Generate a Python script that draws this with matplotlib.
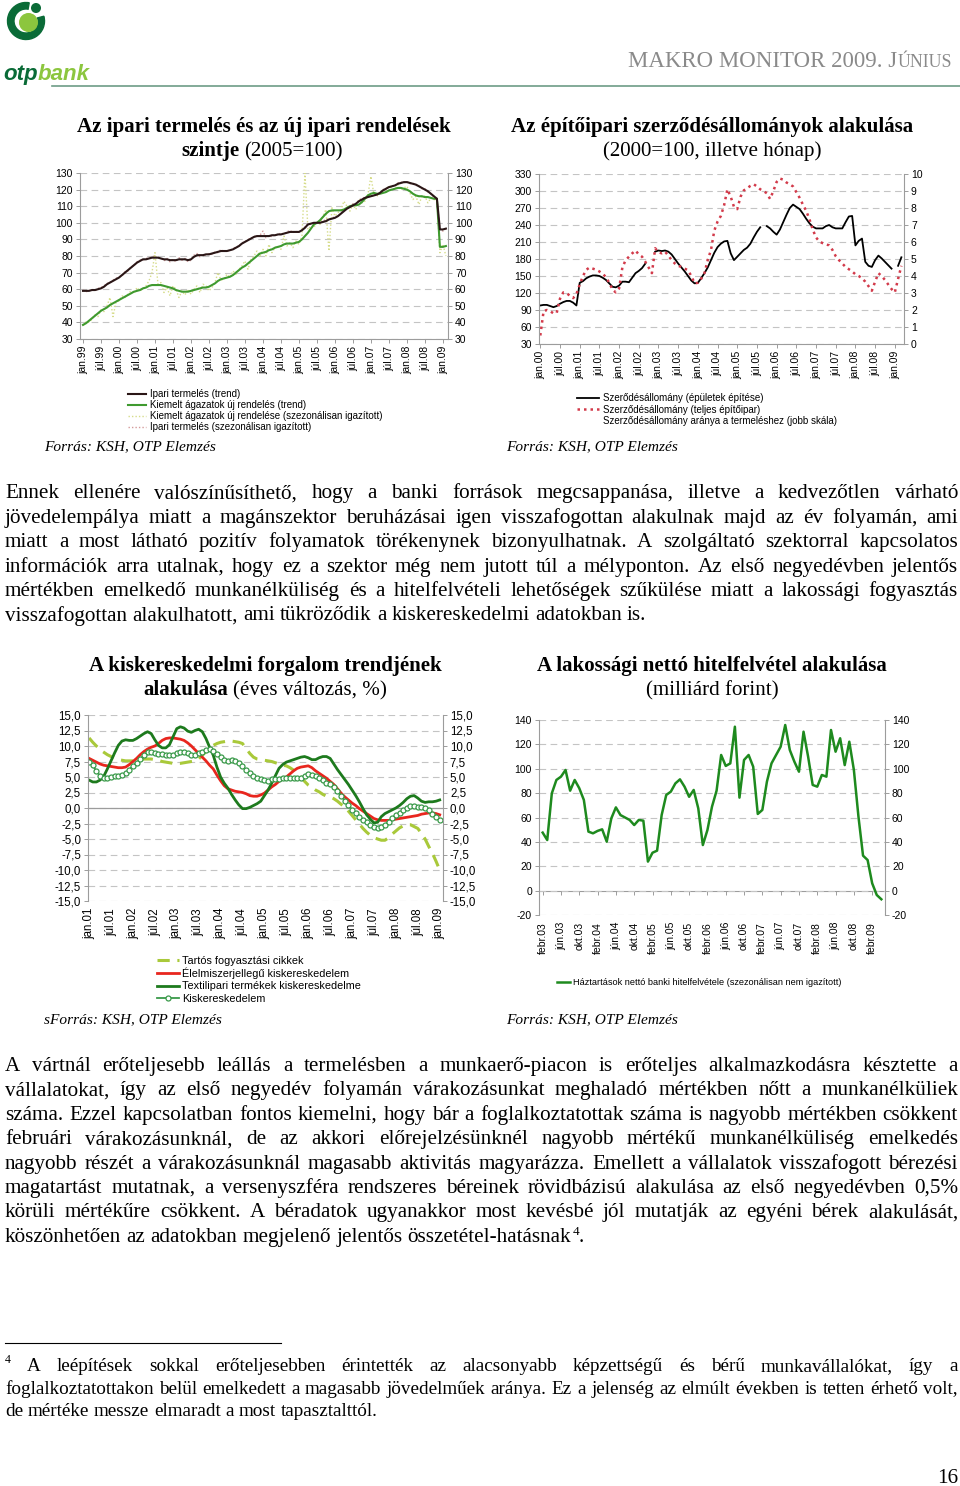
import matplotlib
matplotlib.use("Agg")
import matplotlib.pyplot as plt
from matplotlib.lines import Line2D
from matplotlib.patches import Circle, Wedge
import numpy as np

plt.rcParams["font.family"] = ["Liberation Sans", "DejaVu Sans"]

W, H = 960, 1486
SERIF = ["Liberation Serif", "DejaVu Serif"]
SANS = ["Liberation Sans", "DejaVu Sans"]
GRID = "#c4c4c4"
SPINE = "#9c9c9c"

# ---------------- chart 1: industry (monthly, jan.99 - feb.09) ----------------
ind_trend = [
    59, 59, 59, 59.5, 59.5, 60, 60.5, 61.5, 63, 64, 65, 66,
    67, 68.5, 70, 71.5, 73, 74.5, 76, 77, 78, 78, 78.5, 79,
    79, 79, 78.5, 78, 78, 77.5, 77.5, 77.5, 78, 78, 78, 77.5,
    78, 79.5, 80.5, 80.5, 80.5, 81, 81, 81.5, 82, 82.5, 83, 83,
    83, 83.5, 84, 85, 86, 87.5, 88.5, 89.5, 90.5, 91.5, 92, 92,
    92, 92, 92, 92.5, 92.5, 93, 93, 93.5, 94, 94.5, 94.5, 94.5,
    94.5, 95.5, 97, 99, 99.5, 100, 100, 100, 100.5, 101, 102, 102.5,
    103, 104, 105.5, 107, 108.5, 109.5, 110.5, 111.5, 113, 114, 115, 115.5,
    116, 116.5, 117, 118, 119.5, 120.5, 121.5, 122, 122.5, 123.5, 124, 124.5,
    124.5, 124, 123.5, 123, 122, 121, 120, 119, 117.5, 116, 114.5, 96,
    96, 96.5,
]
ord_trend = [
    38.5, 39.5, 41, 42.5, 44, 45.5, 47, 48, 49, 50.5, 51.5, 52.5,
    53.5, 54.5, 55.5, 56.5, 57.5, 58.5, 59, 59.5, 60.5, 61, 62, 62.5,
    62.5, 62.5, 62.5, 62, 61.5, 61, 60.5, 59.5, 59, 58.5, 58.5, 58.5,
    59, 59.5, 60, 60.5, 61, 61, 61.5, 62.5, 63.5, 65, 66, 66.5,
    67, 67.5, 68.5, 70, 71.5, 73, 74, 75.5, 77, 78.5, 80, 81.5,
    82, 82.5, 83.5, 84, 85, 85.5, 86, 87, 87.5, 87.5, 87.5, 88,
    88.5, 90, 92, 94, 96.5, 99, 100, 101.5, 103.5, 105.5, 107, 107.5,
    107.5, 107.5, 107.5, 108, 109, 110, 110.5, 110.5, 111, 112.5, 114.5, 116.5,
    117.5, 118, 117.5, 117.5, 118, 118.5, 119.5, 120, 120.5, 121, 121, 120.5,
    120, 119, 117.5, 116.5, 116, 116, 115.5, 115.5, 115, 114.5, 114.5, 85.5,
    85.5, 86,
]
ind_sa = [
    59.5, 58.5, 59, 60, 59, 60.5, 61, 62, 63.5, 64, 65.5, 66.5,
    67.5, 68, 70.5, 71, 73.5, 74, 76.5, 77.5, 77.5, 78.5, 79, 79.5,
    80, 78.5, 79, 77, 78.5, 76.5, 78, 76.5, 79, 77.5, 78.5, 76.5,
    77.5, 80.5, 81.5, 79.5, 81, 80.5, 81.5, 81, 82.5, 82, 84, 82.5,
    83.5, 83, 84.5, 85.5, 86, 88, 88.5, 90, 90.5, 92, 91.5, 92.5,
    95, 91, 92.5, 91.5, 93, 92.5, 94, 93, 94.5, 95.5, 94, 95,
    94, 96, 97.5, 99.5, 99, 100.5, 99.5, 101, 100.5, 102.5, 102, 103,
    103.5, 104, 106, 107.5, 109, 110, 111.5, 111, 114, 114.5, 115.5, 115,
    116.5, 116, 117.5, 117.5, 120, 120.5, 121, 122.5, 122, 124, 124.5, 124,
    125, 123.5, 124, 122.5, 122.5, 120.5, 120.5, 118.5, 117.5, 115.5, 114, 96.5,
    95, 96.5,
]
ord_sa = [
    38, 40.5, 40, 42, 44.5, 43.5, 47.5, 46.5, 50, 55, 43.5, 52,
    53, 56, 55, 57, 59, 57.5, 61, 59, 60.5, 62, 65, 70,
    82, 63, 64, 58, 61, 56, 62, 60, 55, 59, 56.5, 60,
    57, 60, 62, 58, 63, 62, 59, 61, 64, 70, 65.5, 66,
    69, 67, 71, 69, 72, 74, 77, 72, 78, 80, 83, 80,
    84, 80, 87, 82, 85, 86, 84, 92, 86, 88, 85, 89,
    87, 92, 130, 96, 98, 97, 101, 99, 104, 108, 83, 109,
    104, 106, 108, 113, 110, 107, 111, 108, 114, 112, 113, 117,
    128, 117, 116, 118, 119, 120, 122, 121, 120, 123, 120, 121,
    122, 118, 114, 116, 111, 116, 116, 112, 115, 114, 114, 82,
    87, 80,
]
labels1 = ["jan.99", "júl.99", "jan.00", "júl.00", "jan.01", "júl.01", "jan.02",
           "júl.02", "jan.03", "júl.03", "jan.04", "júl.04", "jan.05", "júl.05",
           "jan.06", "júl.06", "jan.07", "júl.07", "jan.08", "júl.08", "jan.09"]

# ---------------- chart 2: construction contracts (monthly, jan.00 - mar.09) ----------------
nan = np.nan
contract_build = [
    98, 99, 99, 97, 95, 97, 101, 104, 106, 106, 103, 98,
    138, 141, 146, 149, 151, 151, 150, 147, 143, 137, 131, 130,
    133, 140, 140, 139, 147, 155, 159, 164, 172, nan, nan, 193,
    195, 194, 195, 193, 188, 180, 172, 165, 158, 150, 142, 137,
    138, 146, 155, 165, 178, 191, 201, 207, 211, 212, 190, 178,
    184, 190, 196, 200, 207, 218, 228, 236, nan, 238, 234, 228,
    223, 232, 245, 258, 270, 276, 272, 268, 260, 251, 243, 237,
    234, 234, 234, 238, 240, 236, 234, 234, 234, 245, 255, 256,
    204, 212, 216, 175, 168, 166, 178, 186, 181, 175, 169, 163,
    nan, 168, 183,
]
contract_total = [
    45, 88, 90, 88, 84, 85, 110, 121, 120, 115, 111, 118,
    135, 150, 161, 165, 163, 161, 158, 154, 148, 138, 126, 121,
    128, 165, 178, 184, 190, 195, 188, 184, 175, 165, 155, 199,
    192, 190, 193, 186, 178, 172, 168, 166, 163, 160, 150, 137,
    138, 145, 155, 178, 196, 230, 246, 256, 275, 303, 290, 272,
    268, 290, 301, 305, 309, 312, 308, 303, 300, 296, 286, 300,
    316, 322, 320, 315, 312, 308, 298, 288, 276, 265, 250, 232,
    218, 211, 208, 206, 204, 196, 185, 178, 172, 166, 162, 158,
    153, 150, 146, 140, 132, 124, 140, 155, 150, 143, 135, 127,
    121, 145, 168,
]
labels2 = ["jan.00", "júl.00", "jan.01", "júl.01", "jan.02", "júl.02", "jan.03",
           "júl.03", "jan.04", "júl.04", "jan.05", "júl.05", "jan.06", "júl.06",
           "jan.07", "júl.07", "jan.08", "júl.08", "jan.09"]

# ---------------- chart 3: retail trend (monthly, jan.01 - jan.09) ----------------
durables = [
    11.3, 10.6, 10.0, 9.4, 9.0, 8.6, 8.3, 8.0, 7.8, 7.7, 7.6, 7.6,
    7.6, 7.7, 7.8, 7.9, 7.9, 7.9, 7.8, 7.7, 7.5, 7.4, 7.3, 7.2,
    7.2, 7.2, 7.3, 7.4, 7.5, 7.6, 7.9, 8.5, 9.1, 9.7, 10.1, 10.4,
    10.6, 10.7, 10.8, 10.8, 10.7, 10.6, 10.4, 9.6, 8.8, 8.2, 7.9, 7.8,
    7.7, 7.6, 7.5, 7.3, 7.1, 6.9, 6.8, 6.5, 6.1, 5.6, 5.0, 4.3,
    3.7, 3.3, 2.9, 2.6, 2.2, 1.9, 1.8, 1.5, 1.1, 0.6, 0.2, -0.5,
    -1.2, -1.9, -2.6, -3.3, -3.9, -4.4, -4.8, -5.0, -5.2, -5.2, -4.8, -4.2,
    -3.7, -3.2, -2.9, -2.7, -2.7, -3.0, -3.3, -4.1, -5.0, -6.2, -7.3, -8.6,
    -10.0,
]
food = [
    8.0, 7.7, 7.4, 7.1, 6.9, 6.8, 6.7, 6.6, 6.5, 6.5, 6.6, 7.0,
    7.5, 8.0, 8.6, 9.1, 9.5, 9.8, 10.0, 10.4, 10.9, 11.2, 11.3, 11.3,
    11.2, 11.1, 10.9, 10.5, 10.0, 9.4, 8.8, 8.2, 7.6, 6.9, 6.3, 5.3,
    4.4, 3.6, 3.1, 2.9, 2.7, 2.6, 2.5, 2.3, 2.0, 1.9, 1.9, 2.1,
    2.4, 2.9, 3.4, 3.8, 4.3, 4.7, 5.0, 5.5, 6.0, 6.4, 6.6, 6.7,
    6.8, 6.5, 6.0, 5.6, 5.2, 4.8, 4.3, 3.8, 3.1, 2.4, 1.8, 1.3,
    0.8, 0.4, -0.1, -0.5, -0.9, -1.3, -1.7, -1.9, -2.0, -2.0, -2.0, -1.9,
    -1.8, -1.7, -1.6, -1.5, -1.4, -1.3, -1.2, -1.0, -0.9, -0.8, -0.8, -0.9,
    -1.1,
]
textile = [
    4.5, 4.2, 4.2, 4.5, 5.1, 6.3, 7.6, 8.9, 10.1, 10.8, 11.0, 10.9,
    10.9, 11.2, 11.6, 12.0, 12.3, 12.0, 11.0, 10.1, 9.7, 9.7, 10.2, 11.5,
    12.8, 13.1, 12.9, 12.4, 12.2, 12.5, 12.7, 12.3, 11.2, 9.8, 8.5, 6.6,
    5.0, 4.0, 3.2, 2.2, 1.3, 0.5, -0.1, -0.1, 0.1, 0.4, 0.7, 1.1,
    2.0, 2.9, 4.0, 5.2, 6.4, 7.0, 7.4, 7.6, 7.8, 8.0, 8.2, 8.3,
    8.1, 7.8, 7.8, 8.1, 8.3, 8.3, 8.0, 7.1, 6.2, 5.4, 4.6, 3.8,
    2.9, 2.0, 1.0, -0.1, -1.1, -1.8, -2.4, -2.3, -1.4, -0.9, -0.6, -0.3,
    0.0, 0.4, 0.9, 1.5, 1.9, 2.0, 1.6, 1.1, 0.9, 1.0, 1.0, 1.1,
    1.3,
]
retail = [
    7.5, 6.9, 5.9, 5.2, 4.8, 4.9, 5.0, 5.1, 5.2, 5.3, 5.6, 6.2,
    6.8, 7.3, 7.9, 8.5, 9.0, 9.0, 8.8, 8.7, 8.7, 8.6, 8.6, 8.5,
    8.8, 9.1, 9.1, 8.9, 8.5, 8.5, 8.9, 9.1, 9.3, 9.5, 9.2, 8.7,
    8.2, 7.7, 7.6, 7.7, 7.6, 7.2, 6.7, 6.1, 5.6, 5.1, 4.8, 4.6,
    4.5, 4.4, 4.6, 4.7, 4.7, 4.8, 4.8, 4.9, 4.8, 4.8, 4.9, 5.2,
    5.5, 5.4, 5.1, 4.8, 4.5, 4.1, 3.8, 3.4, 2.7, 1.9, 1.2, 0.5,
    -0.3, -0.8, -1.4, -1.9, -2.3, -2.7, -3.0, -3.2, -3.1, -2.7, -2.2, -1.6,
    -1.1, -0.8, -0.4, 0.0, 0.3, 0.3, 0.2, 0.2, 0.0, -0.4, -1.0, -1.5,
    -1.9,
]
labels3 = ["jan.01", "júl.01", "jan.02", "júl.02", "jan.03", "júl.03", "jan.04",
           "júl.04", "jan.05", "júl.05", "jan.06", "júl.06", "jan.07", "júl.07",
           "jan.08", "júl.08", "jan.09"]

# ---------------- chart 4: household net borrowing (monthly, febr.03 - apr.09) ----------------
net_borrowing = [
    47.6, 41.5, 79.8, 90.8, 93.5, 99, 82, 90.8, 84, 74.4,
    48.4, 47, 49, 50.3, 40.2, 59.3, 68.3, 62, 60, 58,
    53.8, 58, 57.4, 23.8, 31.1, 32.8, 62, 78.5, 81.2, 88,
    91.3, 85.3, 77, 82.6, 67.5, 37.4, 49.7, 68.9, 82, 111.3,
    102.3, 104.4, 134.5, 76.3, 107.2, 111.3, 101.7, 62.9, 66.2, 89.4,
    104.4, 111.3, 118.1, 135.9, 115.4, 105.8, 97.6, 130.4, 109.9, 86.7,
    85.3, 94.9, 93.5, 131.8, 114, 125, 103, 122.2, 99, 60.7,
    28.7, 25.1, 6, -3.6, -7.1,
]
labels4 = ["febr.03", "jún.03", "okt.03", "febr.04", "jún.04", "okt.04", "febr.05",
           "jún.05", "okt.05", "febr.06", "jún.06", "okt.06", "febr.07", "jún.07",
           "okt.07", "febr.08", "jún.08", "okt.08", "febr.09"]

# ---------------- page text ----------------
para1 = [
    "Ennek ellenére valószínűsíthető, hogy a banki források megcsappanása, illetve a kedvezőtlen várható",
    "jövedelempálya miatt a magánszektor beruházásai igen visszafogottan alakulnak majd az év folyamán, ami",
    "miatt a most látható pozitív folyamatok törékenynek bizonyulhatnak. A szolgáltató szektorral kapcsolatos",
    "információk arra utalnak, hogy ez a szektor még nem jutott túl a mélyponton. Az első negyedévben jelentős",
    "mértékben emelkedő munkanélküliség és a hitelfelvételi lehetőségek szűkülése miatt a lakossági fogyasztás",
    "visszafogottan alakulhatott, ami tükröződik a kiskereskedelmi adatokban is.",
]
para2 = [
    "A vártnál erőteljesebb leállás a termelésben a munkaerő-piacon is erőteljes alkalmazkodásra késztette a",
    "vállalatokat, így az első negyedév folyamán várakozásunkat meghaladó mértékben nőtt a munkanélküliek",
    "száma. Ezzel kapcsolatban fontos kiemelni, hogy bár a foglalkoztatottak száma is nagyobb mértékben csökkent",
    "februári várakozásunknál, de az akkori előrejelzésünknél nagyobb mértékű munkanélküliség emelkedés",
    "nagyobb részét a várakozásunknál magasabb aktivitás magyarázza. Emellett a vállalatok visszafogott bérezési",
    "magatartást mutatnak, a versenyszféra rendszeres béreinek rövidbázisú alakulása az első negyedévben 0,5%",
    "körüli mértékűre csökkent. A béradatok ugyanakkor most kevésbé jól mutatják az egyéni bérek alakulását,",
    "köszönhetően az adatokban megjelenő jelentős összetétel-hatásnak",
]
footnote = [
    "A leépítések sokkal erőteljesebben érintették az alacsonyabb képzettségű és bérű munkavállalókat, így a",
    "foglalkoztatottakon belül emelkedett a magasabb jövedelműek aránya. Ez a jelenség az elmúlt években is tetten érhető volt,",
    "de mértéke messze elmaradt a most tapasztalttól.",
]

fig = plt.figure(figsize=(W / 100, H / 100), dpi=100)
fig.patch.set_facecolor("white")
renderer = fig.canvas.get_renderer()


def fx(x):
    return x / W


def fy(y):
    return 1 - y / H


def add_ax(l, t, r, b):
    return fig.add_axes([fx(l), fy(b), (r - l) / W, (b - t) / H])


def text_w(s, size, weight="normal", style="normal", family=SERIF):
    t = fig.text(0, 0, s, fontsize=size, fontweight=weight, fontstyle=style, family=family)
    w = t.get_window_extent(renderer).width
    t.remove()
    return w


def put(x, y, s, size, **kw):
    kw.setdefault("family", SERIF)
    return fig.text(fx(x), fy(y), s, fontsize=size, va="baseline", **kw)


def centered_parts(parts, cx, y, size):
    widths = [text_w(t, size, w) for t, w in parts]
    gap = text_w("a a", size) - text_w("aa", size)
    x = cx - (sum(widths) + gap * (len(parts) - 1)) / 2
    for (t, w), wd in zip(parts, widths):
        put(x, y, t, size, fontweight=w)
        x += wd + gap


def justify(line, x0, x1, y, size, last=False):
    words = line.split()
    widths = [text_w(w, size) for w in words]
    if last:
        gap = text_w("a a", size) - text_w("aa", size)
    else:
        gap = (x1 - x0 - sum(widths)) / (len(words) - 1)
    x = x0
    for w, wd in zip(words, widths):
        put(x, y, w, size)
        x += wd + gap
    return x - gap


def frame(ax, xlim, ylim, yticks, ylabels, xticks, xlabels, size, right=True):
    ax.set_xlim(xlim)
    ax.set_ylim(ylim)
    ax.set_yticks(yticks)
    ax.set_yticklabels(ylabels)
    ax.set_xticks(xticks)
    ax.set_xticklabels(xlabels, rotation=90)
    ax.tick_params(labelsize=size, length=3, width=0.7, color=SPINE, pad=2)
    ax.tick_params(axis="y", right=right, labelright=right)
    ax.spines["top"].set_visible(False)
    for s in ("left", "right", "bottom"):
        ax.spines[s].set_color(SPINE)
        ax.spines[s].set_linewidth(0.8)
    ax.grid(axis="y", color=GRID, linestyle=(0, (6, 4)), linewidth=0.8)
    ax.set_axisbelow(True)


def legend(handles, labels, x, y, size, hl, spacing):
    fig.legend(handles, labels, loc="upper left", bbox_to_anchor=(fx(x), fy(y)),
               frameon=False, prop={"family": SANS, "size": size}, handlelength=hl,
               handletextpad=0.35, labelspacing=spacing, borderpad=0, borderaxespad=0)


# ---------------- header ----------------
logo = add_ax(0, 0, 100, 90)
logo.set_xlim(0, 100)
logo.set_ylim(90, 0)
logo.axis("off")
logo.add_patch(Wedge((26, 21), 18.5, -15, 280, width=6.5, color="#0a6b37"))
logo.add_patch(Circle((28.5, 22.5), 8.8, color="#8cc63e"))
logo.add_patch(Circle((36, 8), 4.3, color="#0a6b37"))
put(3, 80, "otp", 16, family=SANS, fontweight="bold", fontstyle="italic", color="#0a6b37")
put(3 + text_w("otp", 16, "bold", "italic", SANS), 80, "bank", 16, family=SANS,
    fontweight="bold", fontstyle="italic", color="#8cc63e")

hdr_main, hdr_small = "MAKRO MONITOR 2009. J", "ÚNIUS"
hs = 10 * 324 / (text_w(hdr_main, 10) + text_w(hdr_small, 7.8))
put(628, 67, hdr_main, hs, color="#8a8a8a")
put(628 + text_w(hdr_main, hs), 67, hdr_small, hs * 0.78, color="#8a8a8a")
fig.add_artist(Line2D([fx(52), fx(960)], [fy(86), fy(86)], transform=fig.transFigure,
                      color="#6d9c86", lw=1.2))

title_size = 10 * 378 / text_w("Az ipari termelés és az új ipari rendelések", 10, "bold")
src_size = 10 * 172 / text_w("Forrás: KSH, OTP Elemzés", 10, style="italic")

# ---------------- chart 1 ----------------
ax1 = add_ax(80, 173, 448, 339)
x1 = np.arange(len(ind_trend))
ax1.plot(np.arange(len(ind_sa)), ind_sa, color="#d49a9a", ls=(0, (1, 1.5)), lw=1.0)
ax1.plot(np.arange(len(ord_sa)), ord_sa, color="#d6dc8a", ls=(0, (1, 1.5)), lw=1.0)
l_ord, = ax1.plot(np.arange(len(ord_trend)), ord_trend, color="#3f9a2f", lw=1.5)
l_ind, = ax1.plot(x1, ind_trend, color="#2a1616", lw=1.5)
frame(ax1, (-1, 121.7), (30, 130), range(30, 131, 10), [str(v) for v in range(30, 131, 10)],
      range(0, 121, 6), labels1, 7.5)
centered_parts([("Az ipari termelés és az új ipari rendelések", "bold")], 264, 132, title_size)
centered_parts([("szintje", "bold"), ("(2005=100)", "normal")], 262, 156, title_size)
h_ordsa = Line2D([], [], color="#d6dc8a", ls=(0, (1, 1.5)), lw=1.0)
h_indsa = Line2D([], [], color="#d49a9a", ls=(0, (1, 1.5)), lw=1.0)
legend([l_ind, l_ord, h_ordsa, h_indsa],
       ["Ipari termelés (trend)", "Kiemelt ágazatok új rendelés (trend)",
        "Kiemelt ágazatok új rendelése (szezonálisan igazított)",
        "Ipari termelés (szezonálisan igazított)"], 128, 389, 7, 1.9, 0.12)
put(44, 450, "Forrás: KSH, OTP Elemzés", src_size, fontstyle="italic")

# ---------------- chart 2 ----------------
ax2 = add_ax(539, 174, 904, 344)
l_build, = ax2.plot(np.arange(len(contract_build)), contract_build, color="black", lw=1.3)
l_total, = ax2.plot(np.arange(len(contract_total)), contract_total, color="#d23a4a",
                    ls=(0, (1, 1.6)), lw=1.8)
frame(ax2, (-0.4, 110.8), (30, 330), range(30, 331, 30), [str(v) for v in range(30, 331, 30)],
      range(0, 109, 6), labels2, 7.5, right=False)
ax2.spines["right"].set_visible(False)
tw2 = ax2.twinx()
tw2.set_ylim(0, 10)
tw2.set_yticks(range(0, 11))
tw2.tick_params(labelsize=7.5, length=3, width=0.7, color=SPINE, pad=2)
for s in ("top", "left", "bottom"):
    tw2.spines[s].set_visible(False)
tw2.spines["right"].set_color(SPINE)
tw2.spines["right"].set_linewidth(0.8)
centered_parts([("Az építőipari szerződésállományok alakulása", "bold")], 712, 132, title_size)
centered_parts([("(2000=100, illetve hónap)", "normal")], 712, 156, title_size)
legend([l_build, l_total, Line2D([], [], color="white")],
       ["Szerődésállomány (épületek építése)", "Szerződésállomány (teljes építőipar)",
        "Szerződésállomány aránya a termeléshez (jobb skála)"], 577, 393, 7, 2.3, 0.17)
put(506, 450, "Forrás: KSH, OTP Elemzés", src_size, fontstyle="italic")

# ---------------- chart 3 ----------------
ax3 = add_ax(88, 715, 443, 901)
yt3 = np.arange(-15, 15.01, 2.5)
l_dur, = ax3.plot(np.arange(len(durables)), durables, color="#a9c93a", lw=2.2, ls=(0, (4, 2.5)))
l_food, = ax3.plot(np.arange(len(food)), food, color="#e8261e", lw=2.0)
l_tex, = ax3.plot(np.arange(len(textile)), textile, color="#1d7a1d", lw=2.0)
l_ret, = ax3.plot(np.arange(len(retail)), retail, color="#3a9a4a", lw=1.3, marker="o",
                  ms=3.6, mfc="white", mec="#3a9a4a", mew=0.9)
frame(ax3, (-0.3, 96.9), (-15, 15), yt3, [f"{v:.1f}".replace(".", ",") for v in yt3],
      range(0, 97, 6), labels3, 8.3)
ax3.spines["bottom"].set_visible(False)
ax3.tick_params(axis="x", length=0, pad=5)
ax3.axhline(0, color=SPINE, lw=0.9, zorder=1)
centered_parts([("A kiskereskedelmi forgalom trendjének", "bold")], 265, 671, title_size)
centered_parts([("alakulása", "bold"), ("(éves változás, %)", "normal")], 265, 695, title_size)
legend([l_dur, l_food, l_tex, l_ret],
       ["Tartós fogyasztási cikkek", "Élelmiszerjellegű kiskereskedelem",
        "Textilipari termékek kiskereskedelme", "Kiskereskedelem"], 157, 955.5, 7.8, 2.0, 0.2)
put(44, 1023, "sForrás: KSH, OTP Elemzés", src_size, fontstyle="italic")

# ---------------- chart 4 ----------------
ax4 = add_ax(539, 720, 885, 915)
l_net, = ax4.plot(np.arange(len(net_borrowing)), net_borrowing, color="#1e8a1e", lw=1.8)
frame(ax4, (-0.8, 74.8), (-20, 140), range(-20, 141, 20), [str(v) for v in range(-20, 141, 20)],
      range(0, 73, 4), labels4, 7.5)
ax4.spines["bottom"].set_visible(False)
ax4.tick_params(axis="x", length=0, pad=5)
zero4 = ax4.secondary_xaxis(20 / 160)
zero4.set_xticks(range(0, 73, 4))
zero4.set_xticklabels([])
zero4.tick_params(length=3, width=0.7, color=SPINE)
zero4.spines["bottom"].set_color(SPINE)
zero4.spines["top"].set_color(SPINE)
centered_parts([("A lakossági nettó hitelfelvétel alakulása", "bold")], 712, 671, title_size)
centered_parts([("(milliárd forint)", "normal")], 712, 695, title_size)
legend([l_net], ["Háztartások nettó banki hitelfelvétele (szezonálisan nem igazított)"],
       557, 978, 6.6, 1.4, 0.1)
put(506, 1023, "Forrás: KSH, OTP Elemzés", src_size, fontstyle="italic")

# ---------------- body text ----------------
body = 10 * 642 / text_w(para1[-1], 10)
for i, line in enumerate(para1):
    justify(line, 5, 958, 498.5 + 24.4 * i, body, last=(i == len(para1) - 1))
end = 0
last_y = 1071 + 24.4 * (len(para2) - 1)
for i, line in enumerate(para2):
    end = justify(line, 5, 958, 1071 + 24.4 * i, body, last=(i == len(para2) - 1))
put(end + 1, last_y - 7, "4", body * 0.62)
put(end + 1 + text_w("4", body * 0.62), last_y, ".", body)

fig.add_artist(Line2D([fx(5), fx(281)], [fy(1343), fy(1343)], transform=fig.transFigure,
                      color="black", lw=0.8))
fn = 10 * 375 / text_w(footnote[-1], 10)
put(5, 1363, "4", fn * 0.62)
justify(footnote[0], 27, 958, 1371, fn)
justify(footnote[1], 5, 958, 1393.5, fn)
justify(footnote[2], 5, 958, 1416, fn, last=True)

put(958, 1483, "16", body, ha="right")

fig.savefig("out.png", dpi=100)
